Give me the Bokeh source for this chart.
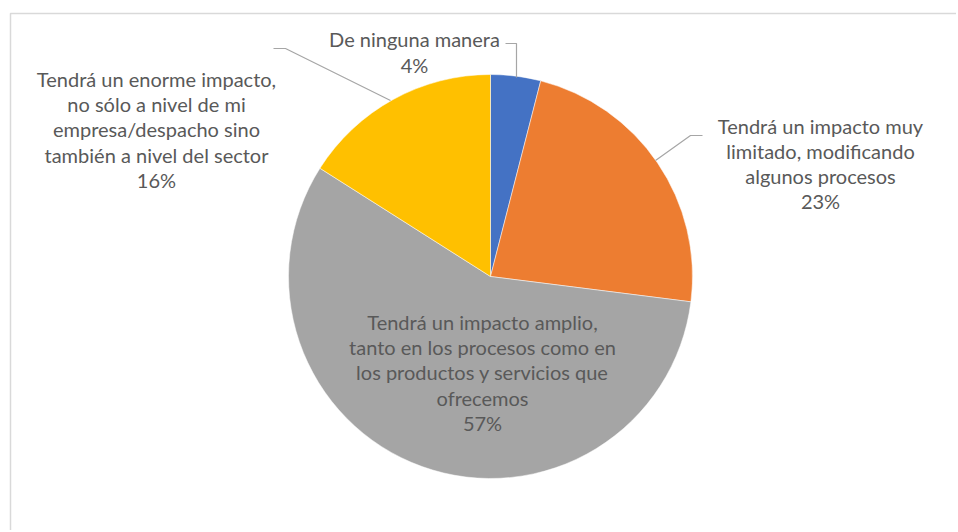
import numpy as np
from bokeh.plotting import figure
from bokeh.models import Range1d
from bokeh.core.properties import value
from bokeh.embed import file_html
from bokeh.resources import INLINE

# ---- data ----
categories = [
    "De ninguna manera",
    "Tendrá un impacto muy\nlimitado, modificando\nalgunos procesos",
    "Tendrá un impacto amplio,\ntanto en los procesos como en\nlos productos y servicios que\nofrecemos",
    "Tendrá un enorme impacto,\nno sólo a nivel de mi\nempresa/despacho sino\ntambién a nivel del sector",
]
percent = [4, 23, 57, 16]
colors = ["#4472C4", "#ED7D31", "#A5A5A5", "#FFC000"]

# ---- layout (page pixel coordinates) ----
W, H = 956, 530
def py(y):
    return 532 - y

p = figure(width=W, height=H, output_backend="svg", toolbar_location=None,
           x_range=Range1d(0, W), y_range=Range1d(532 - H, 532), min_border=0)
p.axis.visible = False
p.grid.visible = False
p.outline_line_color = None
p.background_fill_color = "white"

# frame
p.line([10, 10, 960], [py(540), py(13), py(13)], line_color="#D9D9D9", line_width=1.5)

# pie
cx, cy, r = 490, py(276), 202
vals = np.array(percent, dtype=float)
frac = vals / vals.sum()
ends = np.pi / 2 - 2 * np.pi * np.cumsum(frac)
starts = np.concatenate([[np.pi / 2], ends[:-1]])
p.wedge(x=[cx] * 4, y=[cy] * 4, radius=r, start_angle=list(starts), end_angle=list(ends),
        direction="clock", fill_color=colors, line_color="white", line_width=0.5)

# leader lines
lc = "#A6A6A6"
p.line([505, 516, 516], [py(43), py(43), py(77)], line_color=lc, line_width=1.2)
p.line([702, 690, 655], [py(135), py(135), py(160)], line_color=lc, line_width=1.2)
p.line([273, 285, 390], [py(48), py(48), py(100)], line_color=lc, line_width=1.2)

# labels
lab_x = [414, 820, 482, 156]
lab_y = [py(51.5), py(163), py(372), py(129)]
texts = [f"{c}\n{v}%" for c, v in zip(categories, percent)]
p.text(x=lab_x, y=lab_y, text=texts, text_align="center", text_baseline="middle",
       text_font=value("Lato"), text_font_size="20px", text_color="#595959",
       text_line_height=1.05)

open("out.html", "w").write(file_html(p, INLINE))
